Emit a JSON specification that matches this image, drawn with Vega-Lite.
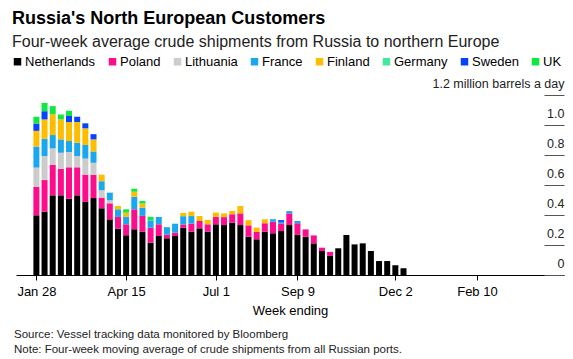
{
  "$schema": "https://vega.github.io/schema/vega-lite/v6.json",
  "autosize": {"type": "pad"},
  "padding": {"left": 11, "top": 10, "right": 10, "bottom": 8},
  "background": "white",
  "config": {
    "font": "Liberation Sans",
    "view": {"stroke": null},
    "title": {"color": "#000000"}
  },
  "title": {
    "text": "Russia's North European Customers",
    "subtitle": "Four-week average crude shipments from Russia to northern Europe",
    "anchor": "start",
    "frame": "group",
    "dx": -4,
    "offset": 5,
    "fontSize": 18,
    "fontWeight": "bold",
    "subtitleFontSize": 16,
    "subtitleColor": "#222222",
    "subtitlePadding": 6
  },
  "vconcat": [
    {
      "width": 548,
      "height": 180,
      "title": {
        "text": "Source: Vessel tracking data monitored by Bloomberg",
        "subtitle": "Note: Four-week moving average of crude shipments from all Russian ports.",
        "orient": "bottom",
        "anchor": "start",
        "frame": "group",
        "dx": -2,
        "offset": 12,
        "fontSize": 11.5,
        "fontWeight": "normal",
        "color": "#222222",
        "subtitleFontSize": 11.5,
        "subtitleColor": "#222222",
        "subtitlePadding": 3
      },
      "data": {
        "values": [
          {"week": "2022-01-28T00:00:00", "country": "Netherlands", "value": 0.398},
          {"week": "2022-01-28T00:00:00", "country": "Poland", "value": 0.189},
          {"week": "2022-01-28T00:00:00", "country": "Lithuania", "value": 0.129},
          {"week": "2022-01-28T00:00:00", "country": "France", "value": 0.14},
          {"week": "2022-01-28T00:00:00", "country": "Finland", "value": 0.105},
          {"week": "2022-01-28T00:00:00", "country": "Sweden", "value": 0.049},
          {"week": "2022-01-28T00:00:00", "country": "UK", "value": 0.045},
          {"week": "2022-02-04T00:00:00", "country": "Netherlands", "value": 0.422},
          {"week": "2022-02-04T00:00:00", "country": "Poland", "value": 0.211},
          {"week": "2022-02-04T00:00:00", "country": "Lithuania", "value": 0.16},
          {"week": "2022-02-04T00:00:00", "country": "France", "value": 0.115},
          {"week": "2022-02-04T00:00:00", "country": "Finland", "value": 0.129},
          {"week": "2022-02-04T00:00:00", "country": "Sweden", "value": 0.055},
          {"week": "2022-02-04T00:00:00", "country": "UK", "value": 0.055},
          {"week": "2022-02-11T00:00:00", "country": "Netherlands", "value": 0.531},
          {"week": "2022-02-11T00:00:00", "country": "Poland", "value": 0.204},
          {"week": "2022-02-11T00:00:00", "country": "Lithuania", "value": 0.109},
          {"week": "2022-02-11T00:00:00", "country": "France", "value": 0.089},
          {"week": "2022-02-11T00:00:00", "country": "Finland", "value": 0.138},
          {"week": "2022-02-11T00:00:00", "country": "UK", "value": 0.055},
          {"week": "2022-02-18T00:00:00", "country": "Netherlands", "value": 0.531},
          {"week": "2022-02-18T00:00:00", "country": "Poland", "value": 0.177},
          {"week": "2022-02-18T00:00:00", "country": "Lithuania", "value": 0.107},
          {"week": "2022-02-18T00:00:00", "country": "France", "value": 0.089},
          {"week": "2022-02-18T00:00:00", "country": "Finland", "value": 0.133},
          {"week": "2022-02-18T00:00:00", "country": "UK", "value": 0.033},
          {"week": "2022-02-25T00:00:00", "country": "Netherlands", "value": 0.509},
          {"week": "2022-02-25T00:00:00", "country": "Poland", "value": 0.209},
          {"week": "2022-02-25T00:00:00", "country": "Lithuania", "value": 0.102},
          {"week": "2022-02-25T00:00:00", "country": "France", "value": 0.073},
          {"week": "2022-02-25T00:00:00", "country": "Finland", "value": 0.127},
          {"week": "2022-02-25T00:00:00", "country": "Sweden", "value": 0.04},
          {"week": "2022-02-25T00:00:00", "country": "UK", "value": 0.035},
          {"week": "2022-03-04T00:00:00", "country": "Netherlands", "value": 0.531},
          {"week": "2022-03-04T00:00:00", "country": "Poland", "value": 0.187},
          {"week": "2022-03-04T00:00:00", "country": "Lithuania", "value": 0.075},
          {"week": "2022-03-04T00:00:00", "country": "France", "value": 0.089},
          {"week": "2022-03-04T00:00:00", "country": "Finland", "value": 0.138},
          {"week": "2022-03-04T00:00:00", "country": "Sweden", "value": 0.035},
          {"week": "2022-03-11T00:00:00", "country": "Netherlands", "value": 0.487},
          {"week": "2022-03-11T00:00:00", "country": "Poland", "value": 0.182},
          {"week": "2022-03-11T00:00:00", "country": "Lithuania", "value": 0.107},
          {"week": "2022-03-11T00:00:00", "country": "France", "value": 0.091},
          {"week": "2022-03-11T00:00:00", "country": "Finland", "value": 0.111},
          {"week": "2022-03-11T00:00:00", "country": "Sweden", "value": 0.033},
          {"week": "2022-03-18T00:00:00", "country": "Netherlands", "value": 0.513},
          {"week": "2022-03-18T00:00:00", "country": "Poland", "value": 0.155},
          {"week": "2022-03-18T00:00:00", "country": "Lithuania", "value": 0.08},
          {"week": "2022-03-18T00:00:00", "country": "France", "value": 0.076},
          {"week": "2022-03-18T00:00:00", "country": "Finland", "value": 0.08},
          {"week": "2022-03-18T00:00:00", "country": "Sweden", "value": 0.035},
          {"week": "2022-03-25T00:00:00", "country": "Netherlands", "value": 0.445},
          {"week": "2022-03-25T00:00:00", "country": "Poland", "value": 0.071},
          {"week": "2022-03-25T00:00:00", "country": "Lithuania", "value": 0.049},
          {"week": "2022-03-25T00:00:00", "country": "France", "value": 0.06},
          {"week": "2022-03-25T00:00:00", "country": "Finland", "value": 0.044},
          {"week": "2022-04-01T00:00:00", "country": "Netherlands", "value": 0.371},
          {"week": "2022-04-01T00:00:00", "country": "Poland", "value": 0.107},
          {"week": "2022-04-01T00:00:00", "country": "Lithuania", "value": 0.02},
          {"week": "2022-04-01T00:00:00", "country": "France", "value": 0.051},
          {"week": "2022-04-08T00:00:00", "country": "Netherlands", "value": 0.309},
          {"week": "2022-04-08T00:00:00", "country": "Poland", "value": 0.078},
          {"week": "2022-04-08T00:00:00", "country": "France", "value": 0.051},
          {"week": "2022-04-08T00:00:00", "country": "Finland", "value": 0.022},
          {"week": "2022-04-15T00:00:00", "country": "Netherlands", "value": 0.265},
          {"week": "2022-04-15T00:00:00", "country": "Poland", "value": 0.073},
          {"week": "2022-04-15T00:00:00", "country": "France", "value": 0.051},
          {"week": "2022-04-15T00:00:00", "country": "Finland", "value": 0.027},
          {"week": "2022-04-15T00:00:00", "country": "UK", "value": 0.022},
          {"week": "2022-04-22T00:00:00", "country": "Netherlands", "value": 0.305},
          {"week": "2022-04-22T00:00:00", "country": "Poland", "value": 0.133},
          {"week": "2022-04-22T00:00:00", "country": "France", "value": 0.084},
          {"week": "2022-04-22T00:00:00", "country": "Finland", "value": 0.033},
          {"week": "2022-04-22T00:00:00", "country": "UK", "value": 0.02},
          {"week": "2022-04-29T00:00:00", "country": "Netherlands", "value": 0.289},
          {"week": "2022-04-29T00:00:00", "country": "Poland", "value": 0.105},
          {"week": "2022-04-29T00:00:00", "country": "France", "value": 0.055},
          {"week": "2022-04-29T00:00:00", "country": "Finland", "value": 0.027},
          {"week": "2022-04-29T00:00:00", "country": "UK", "value": 0.018},
          {"week": "2022-05-06T00:00:00", "country": "Netherlands", "value": 0.215},
          {"week": "2022-05-06T00:00:00", "country": "Poland", "value": 0.1},
          {"week": "2022-05-06T00:00:00", "country": "France", "value": 0.049},
          {"week": "2022-05-06T00:00:00", "country": "UK", "value": 0.024},
          {"week": "2022-05-13T00:00:00", "country": "Netherlands", "value": 0.26},
          {"week": "2022-05-13T00:00:00", "country": "Poland", "value": 0.078},
          {"week": "2022-05-13T00:00:00", "country": "France", "value": 0.049},
          {"week": "2022-05-20T00:00:00", "country": "Netherlands", "value": 0.245},
          {"week": "2022-05-20T00:00:00", "country": "Poland", "value": 0.025},
          {"week": "2022-05-20T00:00:00", "country": "France", "value": 0.049},
          {"week": "2022-05-27T00:00:00", "country": "Netherlands", "value": 0.26},
          {"week": "2022-05-27T00:00:00", "country": "Poland", "value": 0.022},
          {"week": "2022-05-27T00:00:00", "country": "France", "value": 0.06},
          {"week": "2022-06-03T00:00:00", "country": "Netherlands", "value": 0.315},
          {"week": "2022-06-03T00:00:00", "country": "Poland", "value": 0.022},
          {"week": "2022-06-03T00:00:00", "country": "France", "value": 0.055},
          {"week": "2022-06-03T00:00:00", "country": "Finland", "value": 0.022},
          {"week": "2022-06-10T00:00:00", "country": "Netherlands", "value": 0.289},
          {"week": "2022-06-10T00:00:00", "country": "Poland", "value": 0.053},
          {"week": "2022-06-10T00:00:00", "country": "France", "value": 0.051},
          {"week": "2022-06-10T00:00:00", "country": "Finland", "value": 0.029},
          {"week": "2022-06-17T00:00:00", "country": "Netherlands", "value": 0.311},
          {"week": "2022-06-17T00:00:00", "country": "Poland", "value": 0.049},
          {"week": "2022-06-17T00:00:00", "country": "Finland", "value": 0.033},
          {"week": "2022-06-24T00:00:00", "country": "Netherlands", "value": 0.289},
          {"week": "2022-06-24T00:00:00", "country": "Poland", "value": 0.049},
          {"week": "2022-06-24T00:00:00", "country": "Finland", "value": 0.029},
          {"week": "2022-07-01T00:00:00", "country": "Netherlands", "value": 0.338},
          {"week": "2022-07-01T00:00:00", "country": "Poland", "value": 0.049},
          {"week": "2022-07-01T00:00:00", "country": "Finland", "value": 0.029},
          {"week": "2022-07-08T00:00:00", "country": "Netherlands", "value": 0.333},
          {"week": "2022-07-08T00:00:00", "country": "Poland", "value": 0.053},
          {"week": "2022-07-08T00:00:00", "country": "Finland", "value": 0.025},
          {"week": "2022-07-15T00:00:00", "country": "Netherlands", "value": 0.349},
          {"week": "2022-07-15T00:00:00", "country": "Poland", "value": 0.056},
          {"week": "2022-07-15T00:00:00", "country": "Finland", "value": 0.022},
          {"week": "2022-07-22T00:00:00", "country": "Netherlands", "value": 0.333},
          {"week": "2022-07-22T00:00:00", "country": "Poland", "value": 0.078},
          {"week": "2022-07-22T00:00:00", "country": "Finland", "value": 0.049},
          {"week": "2022-07-29T00:00:00", "country": "Netherlands", "value": 0.255},
          {"week": "2022-07-29T00:00:00", "country": "Poland", "value": 0.076},
          {"week": "2022-07-29T00:00:00", "country": "Finland", "value": 0.035},
          {"week": "2022-08-05T00:00:00", "country": "Netherlands", "value": 0.238},
          {"week": "2022-08-05T00:00:00", "country": "Poland", "value": 0.049},
          {"week": "2022-08-05T00:00:00", "country": "Finland", "value": 0.029},
          {"week": "2022-08-12T00:00:00", "country": "Netherlands", "value": 0.289},
          {"week": "2022-08-12T00:00:00", "country": "Poland", "value": 0.056},
          {"week": "2022-08-12T00:00:00", "country": "Finland", "value": 0.027},
          {"week": "2022-08-19T00:00:00", "country": "Netherlands", "value": 0.278},
          {"week": "2022-08-19T00:00:00", "country": "Poland", "value": 0.077},
          {"week": "2022-08-19T00:00:00", "country": "France", "value": 0.016},
          {"week": "2022-08-26T00:00:00", "country": "Netherlands", "value": 0.293},
          {"week": "2022-08-26T00:00:00", "country": "Poland", "value": 0.051},
          {"week": "2022-08-26T00:00:00", "country": "France", "value": 0.01},
          {"week": "2022-08-26T00:00:00", "country": "Sweden", "value": 0.012},
          {"week": "2022-09-02T00:00:00", "country": "Netherlands", "value": 0.333},
          {"week": "2022-09-02T00:00:00", "country": "Poland", "value": 0.078},
          {"week": "2022-09-02T00:00:00", "country": "France", "value": 0.015},
          {"week": "2022-09-09T00:00:00", "country": "Netherlands", "value": 0.267},
          {"week": "2022-09-09T00:00:00", "country": "Poland", "value": 0.078},
          {"week": "2022-09-09T00:00:00", "country": "France", "value": 0.015},
          {"week": "2022-09-16T00:00:00", "country": "Netherlands", "value": 0.255},
          {"week": "2022-09-16T00:00:00", "country": "Poland", "value": 0.049},
          {"week": "2022-09-23T00:00:00", "country": "Netherlands", "value": 0.211},
          {"week": "2022-09-23T00:00:00", "country": "Poland", "value": 0.053},
          {"week": "2022-09-30T00:00:00", "country": "Netherlands", "value": 0.16},
          {"week": "2022-09-30T00:00:00", "country": "Poland", "value": 0.022},
          {"week": "2022-10-07T00:00:00", "country": "Netherlands", "value": 0.127},
          {"week": "2022-10-07T00:00:00", "country": "Poland", "value": 0.027},
          {"week": "2022-10-14T00:00:00", "country": "Netherlands", "value": 0.178},
          {"week": "2022-10-21T00:00:00", "country": "Netherlands", "value": 0.267},
          {"week": "2022-10-28T00:00:00", "country": "Netherlands", "value": 0.204},
          {"week": "2022-11-04T00:00:00", "country": "Netherlands", "value": 0.211},
          {"week": "2022-11-11T00:00:00", "country": "Netherlands", "value": 0.16},
          {"week": "2022-11-18T00:00:00", "country": "Netherlands", "value": 0.093},
          {"week": "2022-11-25T00:00:00", "country": "Netherlands", "value": 0.093},
          {"week": "2022-12-02T00:00:00", "country": "Netherlands", "value": 0.065},
          {"week": "2022-12-09T00:00:00", "country": "Netherlands", "value": 0.045}
        ]
      },
      "transform": [
        {"calculate": "indexof(['Netherlands','Poland','Lithuania','France','Finland','Germany','Sweden','UK'], datum.country)", "as": "stackOrder"}
      ],
      "mark": {"type": "bar", "size": 6},
      "encoding": {
        "x": {
          "field": "week",
          "type": "temporal",
          "scale": {
            "domain": [
              {"year": 2022, "month": 1, "date": 14, "hours": 19},
              {"year": 2023, "month": 4, "date": 21, "hours": 10}
            ],
            "nice": false
          },
          "axis": {
            "title": "Week ending",
            "titleFontSize": 13,
            "titleFontWeight": "normal",
            "titleColor": "#000000",
            "titlePadding": 6,
            "values": [
              {"year": 2022, "month": 1, "date": 28},
              {"year": 2022, "month": 4, "date": 15},
              {"year": 2022, "month": 7, "date": 1},
              {"year": 2022, "month": 9, "date": 9},
              {"year": 2022, "month": 12, "date": 2},
              {"year": 2023, "month": 2, "date": 10}
            ],
            "format": "%b %-d",
            "labelFontSize": 13,
            "labelColor": "#000000",
            "labelPadding": 5,
            "labelFlush": false,
            "labelOverlap": false,
            "grid": false,
            "domain": true,
            "domainColor": "#000000",
            "domainWidth": 1,
            "ticks": true,
            "tickColor": "#000000",
            "tickSize": 5
          }
        },
        "y": {
          "field": "value",
          "type": "quantitative",
          "stack": "zero",
          "scale": {"domain": [0, 1.2], "nice": false},
          "axis": {
            "orient": "right",
            "title": null,
            "values": [0, 0.2, 0.4, 0.6, 0.8, 1.0, 1.2],
            "labelExpr": "datum.value == 0 ? '0' : (datum.value > 1.1 ? '1.2 million barrels a day' : format(datum.value, '.1f'))",
            "labelAlign": "right",
            "labelBaseline": "alphabetic",
            "labelOffset": -8,
            "labelPadding": 20,
            "labelFontSize": 12.5,
            "labelColor": "#222222",
            "labelOverlap": false,
            "labelFlush": false,
            "labelBound": false,
            "grid": false,
            "domain": false,
            "ticks": true,
            "tickSize": -20,
            "tickColor": "#555555",
            "tickWidth": 1
          }
        },
        "order": {"field": "stackOrder", "type": "quantitative", "sort": "ascending"},
        "color": {
          "field": "country",
          "type": "nominal",
          "sort": ["Netherlands", "Poland", "Lithuania", "France", "Finland", "Germany", "Sweden", "UK"],
          "scale": {
            "domain": ["Netherlands", "Poland", "Lithuania", "France", "Finland", "Germany", "Sweden", "UK"],
            "range": ["#000000", "#fd0d8b", "#cccccc", "#1aa7ee", "#ffbd00", "#42e8a0", "#0543ff", "#10e840"]
          },
          "legend": {
            "orient": "none",
            "legendX": -5,
            "legendY": -40,
            "direction": "horizontal",
            "title": null,
            "symbolType": "square",
            "symbolSize": 56,
            "symbolStrokeWidth": 0,
            "labelFontSize": 13,
            "labelColor": "#000000",
            "labelOffset": 1,
            "columnPadding": 10
          }
        }
      }
    }
  ]
}
